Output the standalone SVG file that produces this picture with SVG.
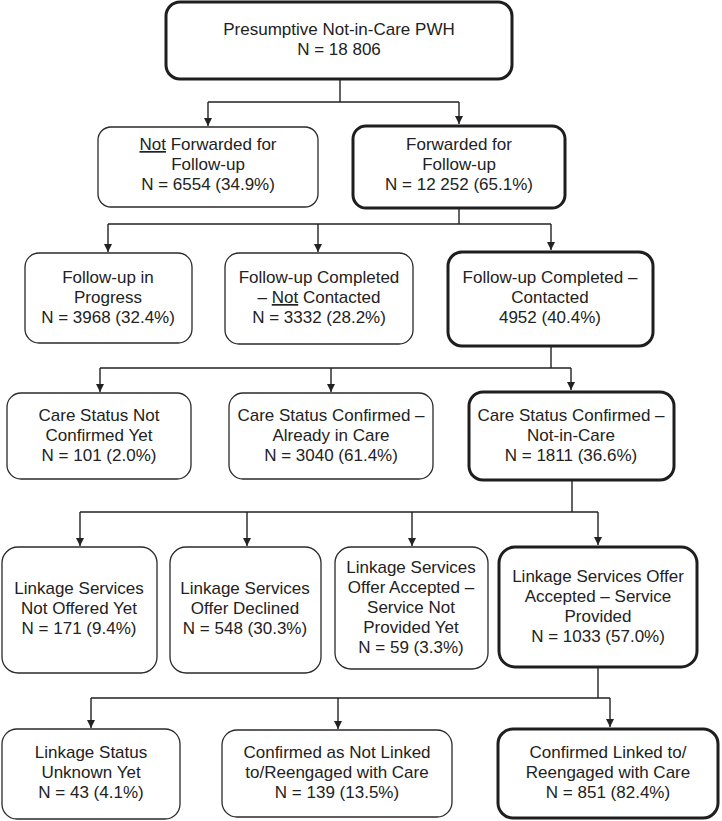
<svg xmlns="http://www.w3.org/2000/svg" width="722" height="821" viewBox="0 0 722 821">
<style>
.box{fill:#fff;stroke:#2a2a2a;stroke-width:1.3}
.thick{fill:#fff;stroke:#1e1e1e;stroke-width:3}
text{font-family:"Liberation Sans",Arial,sans-serif;font-size:17px;fill:#222;text-anchor:middle}
.u{text-decoration:underline}
.c{fill:none;stroke:#222;stroke-width:1.4}
</style>
<defs>
<marker id="ah" markerUnits="userSpaceOnUse" markerWidth="10" markerHeight="10" viewBox="0 0 10 10" refX="8" refY="5" orient="auto">
<path d="M0,1 L8,5 L0,9 z" fill="#222"/>
</marker>
</defs>
<rect width="722" height="821" fill="#fff"/>
<g id="connectors">
<path class="c" d="M340,79 V102 M208,102 H459"/>
<path class="c" d="M208,102 V126" marker-end="url(#ah)"/>
<path class="c" d="M459,102 V124" marker-end="url(#ah)"/>
<path class="c" d="M459,208 V224 M108,224 H551"/>
<path class="c" d="M108,224 V252" marker-end="url(#ah)"/>
<path class="c" d="M318,224 V252" marker-end="url(#ah)"/>
<path class="c" d="M551,224 V250" marker-end="url(#ah)"/>
<path class="c" d="M551,346 V368 M100,368 H571"/>
<path class="c" d="M100,368 V392" marker-end="url(#ah)"/>
<path class="c" d="M331,368 V392" marker-end="url(#ah)"/>
<path class="c" d="M571,368 V390" marker-end="url(#ah)"/>
<path class="c" d="M572,480 V512 M80,512 H598"/>
<path class="c" d="M80,512 V546" marker-end="url(#ah)"/>
<path class="c" d="M247,512 V546" marker-end="url(#ah)"/>
<path class="c" d="M412,512 V546" marker-end="url(#ah)"/>
<path class="c" d="M598,512 V545" marker-end="url(#ah)"/>
<path class="c" d="M598,667 V698 M91,698 H610"/>
<path class="c" d="M91,698 V728" marker-end="url(#ah)"/>
<path class="c" d="M338,698 V729" marker-end="url(#ah)"/>
<path class="c" d="M610,698 V727" marker-end="url(#ah)"/>
</g>
<g id="n1"><rect class="thick" x="166" y="2" width="346" height="77" rx="14"/>
<text x="339" y="35">Presumptive Not-in-Care PWH</text><text x="339" y="55">N = 18 806</text></g>
<g id="n2"><rect class="box" x="98" y="127" width="220" height="80" rx="13"/>
<text x="208" y="150"><tspan class="u">Not</tspan> Forwarded for</text><text x="208" y="170">Follow-up</text><text x="208" y="190">N = 6554 (34.9%)</text></g>
<g id="n3"><rect class="thick" x="353" y="126" width="212" height="82" rx="13"/>
<text x="459" y="150">Forwarded for</text><text x="459" y="170">Follow-up</text><text x="459" y="190">N = 12 252 (65.1%)</text></g>
<g id="n4"><rect class="box" x="25" y="253" width="167" height="90" rx="14"/>
<text x="108" y="283">Follow-up in</text><text x="108" y="303">Progress</text><text x="108" y="323">N = 3968 (32.4%)</text></g>
<g id="n5"><rect class="box" x="225" y="253" width="188" height="91" rx="14"/>
<text x="319" y="283">Follow-up Completed</text><text x="319" y="303">– <tspan class="u">Not</tspan> Contacted</text><text x="319" y="323">N = 3332 (28.2%)</text></g>
<g id="n6"><rect class="thick" x="448" y="252" width="205" height="94" rx="14"/>
<text x="550" y="283">Follow-up Completed –</text><text x="550" y="303">Contacted</text><text x="550" y="323">4952 (40.4%)</text></g>
<g id="n7"><rect class="box" x="7" y="393" width="184" height="86" rx="14"/>
<text x="99" y="421">Care Status Not</text><text x="99" y="441">Confirmed Yet</text><text x="99" y="461">N = 101 (2.0%)</text></g>
<g id="n8"><rect class="box" x="229" y="393" width="204" height="86" rx="14"/>
<text x="331" y="421">Care Status Confirmed –</text><text x="331" y="441">Already in Care</text><text x="331" y="461">N = 3040 (61.4%)</text></g>
<g id="n9"><rect class="thick" x="469" y="392" width="205" height="88" rx="14"/>
<text x="571" y="421">Care Status Confirmed –</text><text x="571" y="441">Not-in-Care</text><text x="571" y="461">N = 1811 (36.6%)</text></g>
<g id="n10"><rect class="box" x="2" y="547" width="155" height="126" rx="16"/>
<text x="79" y="594">Linkage Services</text><text x="79" y="614">Not Offered Yet</text><text x="79" y="634">N = 171 (9.4%)</text></g>
<g id="n11"><rect class="box" x="170" y="547" width="151" height="126" rx="16"/>
<text x="245" y="594">Linkage Services</text><text x="245" y="614">Offer Declined</text><text x="245" y="634">N = 548 (30.3%)</text></g>
<g id="n12"><rect class="box" x="335" y="547" width="153" height="122" rx="16"/>
<text x="411" y="573">Linkage Services</text><text x="411" y="593">Offer Accepted –</text><text x="411" y="613">Service Not</text><text x="411" y="633">Provided Yet</text><text x="411" y="653">N = 59 (3.3%)</text></g>
<g id="n13"><rect class="thick" x="499" y="547" width="198" height="120" rx="16"/>
<text x="598" y="582">Linkage Services Offer</text><text x="598" y="602">Accepted – Service</text><text x="598" y="622">Provided</text><text x="598" y="642">N = 1033 (57.0%)</text></g>
<g id="n14"><rect class="box" x="2" y="729" width="178" height="90" rx="15"/>
<text x="91" y="758">Linkage Status</text><text x="91" y="778">Unknown Yet</text><text x="91" y="798">N = 43 (4.1%)</text></g>
<g id="n15"><rect class="box" x="222" y="730" width="230" height="87" rx="15"/>
<text x="337" y="758">Confirmed as Not Linked</text><text x="337" y="778">to/Reengaged with Care</text><text x="337" y="798">N = 139 (13.5%)</text></g>
<g id="n16"><rect class="thick" x="498" y="729" width="220" height="89" rx="15"/>
<text x="608" y="758">Confirmed Linked to/</text><text x="608" y="778">Reengaged with Care</text><text x="608" y="798">N = 851 (82.4%)</text></g>
</svg>
